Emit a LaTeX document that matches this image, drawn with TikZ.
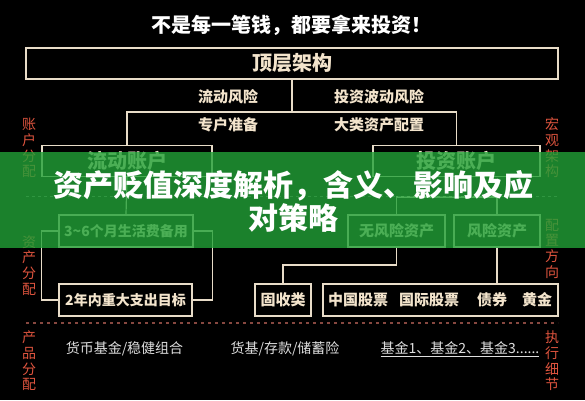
\documentclass[tikz,border=0pt]{standalone}
\usepackage{fontspec}
\setmainfont{Noto Sans CJK SC}
\usepackage{xcolor}
\definecolor{linecream}{RGB}{232,220,200}
\definecolor{textcream}{RGB}{243,228,204}
\definecolor{labelred}{RGB}{222,84,62}
\definecolor{dotbrown}{RGB}{135,72,64}
\definecolor{dashgray}{RGB}{105,105,105}
\definecolor{prodgray}{RGB}{222,222,222}
\definecolor{bannergreen}{RGB}{34,162,56}

\newcommand\fsz[1]{\fontsize{#1}{#1}\selectfont}

\begin{document}
\begin{tikzpicture}[x=1pt, y=-1pt,
    box/.style={draw=linecream, line width=1.3pt, inner sep=0pt, text=textcream, font=\fsz{15}\bfseries},
    tag/.style={text=textcream, font=\fsz{15}\bfseries, inner sep=0pt},
    tree/.style={draw=linecream, line width=1.2pt},
    side/.style={text=labelred, font=\fontsize{14}{15.7}\selectfont, align=center, inner sep=0pt},
    prod/.style={text=prodgray, font=\fsz{14}, inner sep=0pt}]
    % Background
    \useasboundingbox (0,0) rectangle (585,400);
    \fill[black] (0,0) rectangle (585,400);

    % Title
    \node[text=white, font=\fsz{20}\bfseries] (title) at (291,25) {不是每一笔钱，都要拿来投资！};

    % Top level box
    \node[box, font=\fsz{20}\bfseries, minimum width=532pt, minimum height=31pt] (top) at (292,63.5) {顶层架构};
    \node[tag] (riskliq) at (228,97) {流动风险};
    \node[tag] (riskinv) at (379,97) {投资波动风险};
    \node[tag] (prepliq) at (228,125) {专户准备};
    \node[tag] (prepinv) at (379,125) {大类资产配置};
    \coordinate (brace) at (292,112);

    % Accounts
    \node[box, font=\fsz{20}\bfseries, minimum width=170pt, minimum height=31pt] (liqacct) at (127,161) {流动账户};
    \node[box, font=\fsz{20}\bfseries, minimum width=167pt, minimum height=31pt] (invacct) at (456.5,161) {投资账户};
    \coordinate (split) at (456.5,197);

    % Asset level
    \node[box, font=\fsz{14}\bfseries, minimum width=134pt, minimum height=32pt] (mon36) at (126,231) {3\textasciitilde6个月生活费备用};
    \node[box, font=\fsz{14}\bfseries, minimum width=133pt, minimum height=32pt] (goal2) at (125.5,300) {2年内重大支出目标};
    \node[box, minimum width=97pt, minimum height=32pt] (riskfree) at (396.5,231) {无风险资产};
    \node[box, minimum width=86pt, minimum height=32pt] (risky) at (497,231) {风险资产};
    \coordinate (fork) at (396.5,265);
    \node[box, minimum width=56pt, minimum height=32pt] (fixinc) at (283,300) {固收类};
    \node[box, minimum width=235pt, minimum height=32pt] (equity) at (440.5,300) {};
    \node[tag] (cnstock) at (358,300) {中国股票};
    \node[tag] (intlstock) at (429,300) {国际股票};
    \node[tag] (bond) at (492,300) {债券};
    \node[tag] (gold) at (537,300) {黄金};

    % Tree connectors
    \draw[tree] (top.south) -- (brace);
    \draw[tree] (liqacct.north) |- (brace) -| (invacct.north);
    \draw[tree] (liqacct.south) -- (mon36.north);
    \draw[tree] (mon36.west) -- (mon36.west -| liqacct.west) |- (goal2.west);
    \draw[tree] (mon36.east) -- (mon36.east -| liqacct.east) |- (goal2.east);
    \draw[tree] (invacct.south) -- (split);
    \draw[tree] (riskfree.north) |- (split) -| (risky.north);
    \draw[tree] (riskfree.south) -- (fork) -| (fixinc.north);
    \draw[tree] (risky.south) -- (risky.south |- equity.north);

    % Separators
    \draw[dashgray, dashed, line width=0.6pt] (26,196) -- (558,196);
    \draw[dotbrown, line width=1.2pt, dash pattern=on 3pt off 4pt] (26,323) -- (558,323);

    % Products
    \node[prod] (prodliq) at (124.5,349) {货币基金/稳健组合};
    \node[prod] (prodfix) at (285,349) {货基/存款/储蓄险};
    \node[prod] (prodinv) at (460,349) {\underline{基金1、基金2、基金3......}};

    % Side labels
    \node[side] (lblacct) at (29,148) {账\\户\\分\\配};
    \node[side] (lblasset) at (29,265.5) {资\\产\\分\\配};
    \node[side] (lblprod) at (29,361) {产\\品\\分\\配};
    \node[side] (lblmacro) at (552,148) {宏\\观\\架\\构};
    \node[side] (lbldir) at (552,248.5) {配\\置\\方\\向};
    \node[side] (lbldetail) at (552,361) {执\\行\\细\\节};

    % Banner
    \fill[bannergreen, fill opacity=0.8] (0,152) rectangle (585,248);
    \node[text=white, font=\fontsize{30}{33}\selectfont\bfseries, align=center] (banner) at (293,201.5)
        {资产贬值深度解析，含义、影响及应\\对策略};
\end{tikzpicture}
\end{document}
